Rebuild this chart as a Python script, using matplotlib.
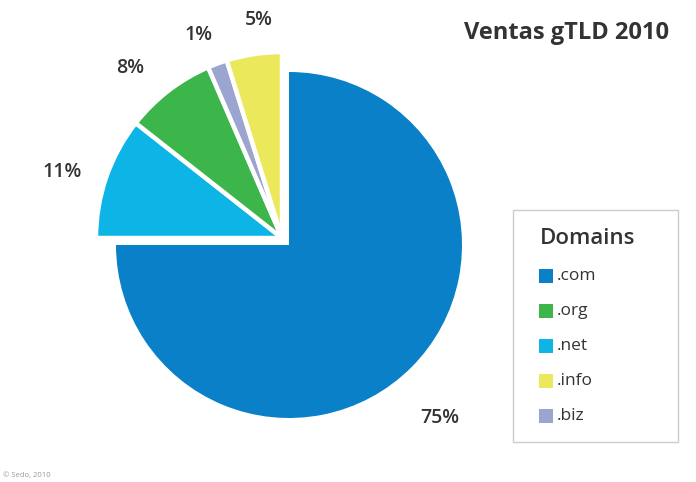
import matplotlib.pyplot as plt
from matplotlib.patches import Rectangle

# gTLD sales share, 2010 (pie order: clockwise from 12 o'clock)
domains = [".com", ".net", ".org", ".biz", ".info"]
shares = [75.0, 10.6, 7.9, 1.7, 4.8]
colors = ["#0a80c8", "#0db4e6", "#3cb54b", "#9ca4d0", "#ece85c"]
pct_labels = ["75%", "11%", "8%", "1%", "5%"]

# legend order as shown in the box
legend_order = [".com", ".org", ".net", ".info", ".biz"]

# where the percentage labels sit (pixels from top-left)
label_pos = [(440, 418), (62, 172), (130, 68), (198, 35), (259, 20)]

W, H = 696, 482
plt.rcParams["font.family"] = ["Open Sans", "DejaVu Sans"]
fig = plt.figure(figsize=(W / 100, H / 100), dpi=100)
ax = fig.add_axes([0, 0, 1, 1])

# big slice
big_cols = [colors[0]] + ["none"] * 4
big_lbls = [pct_labels[0]] + [""] * 4
_, t_big = ax.pie(shares, colors=big_cols, labels=big_lbls, startangle=90,
                  counterclock=False, center=(289, H - 245), radius=173,
                  frame=True, wedgeprops=dict(linewidth=0),
                  textprops=dict(fontsize=14, fontweight="semibold", color="#333333"))

# exploded small slices
small_cols = ["none"] + colors[1:]
small_lbls = [""] + pct_labels[1:]
wedges, t_small = ax.pie(shares, colors=small_cols, labels=small_lbls, startangle=90,
                         counterclock=False, center=(282, H - 238), radius=186,
                         frame=True, wedgeprops=dict(linewidth=3.2, edgecolor="white"),
                         textprops=dict(fontsize=14, fontweight="semibold", color="#333333"))
wedges[0].set_edgecolor("none")

texts = [t_big[0]] + list(t_small[1:])
for t, (px, py) in zip(texts, label_pos):
    t.set_position((px, H - py))
    t.set_ha("center")
    t.set_va("center")

ax.set_xlim(0, W)
ax.set_ylim(0, H)
ax.set_aspect("equal")
ax.axis("off")

ax.text(566, H - 33, "Ventas gTLD 2010", fontsize=17, fontweight="bold",
        color="#333333", ha="center", va="center")

# legend box
ax.add_patch(Rectangle((513, H - 442), 165, 232, facecolor="white",
                       edgecolor="#cccccc", linewidth=1))
ax.text(540, H - 238, "Domains", fontsize=16, fontweight="semibold", color="#333333",
        ha="left", va="center")
for i, name in enumerate(legend_order):
    y = H - (276 + 35 * i)
    ax.add_patch(Rectangle((539, y - 7), 14, 14, facecolor=colors[domains.index(name)],
                           edgecolor="none"))
    ax.text(557, y, name, fontsize=12.5, color="#333333", ha="left", va="center")

ax.text(3, H - 476, "© Sedo, 2010", fontsize=5.5, color="#999999",
        ha="left", va="center")

fig.savefig("out.png", dpi=100)
